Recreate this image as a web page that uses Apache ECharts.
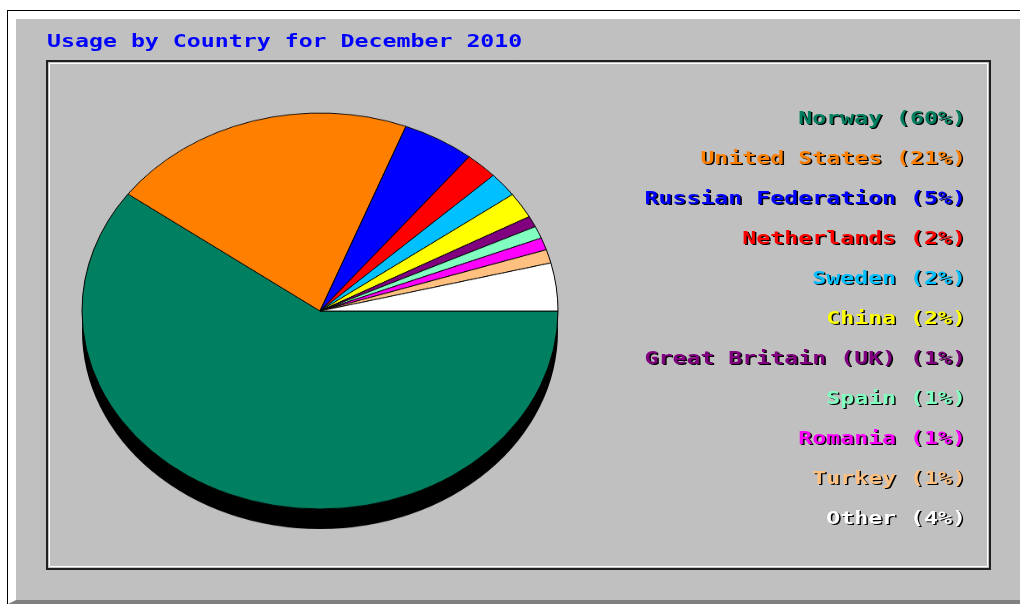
<!DOCTYPE html>
<html><head><meta charset="utf-8">
<script src="https://cdn.jsdelivr.net/npm/echarts@6/dist/echarts.min.js"></script>
<style>
html,body{margin:0;padding:0;background:#fff;}
#wrap{position:relative;width:1020px;height:604px;overflow:hidden;}
#main{position:absolute;left:0;top:0;width:1020px;height:604px;}
#pie{position:absolute;left:0;top:0;width:1020px;height:604px;transform:scaleY(0.832);transform-origin:0 311px;}
</style></head><body>
<div id="wrap"><div id="main"></div><div id="pie"></div></div>
<script>
const chartTitle = 'Usage by Country for December 2010';
const countries = ['Norway','United States','Russian Federation','Netherlands','Sweden','China','Great Britain (UK)','Spain','Romania','Turkey','Other'];
const shares = [60.0, 20.8, 4.9, 2.2, 2.0, 2.1, 0.9, 1.0, 1.0, 1.1, 3.9];
const colors = ['#008060','#FF8000','#0000FF','#FF0000','#00C0FF','#FFFF00','#800080','#80FFC0','#FF00FF','#FFC080','#FFFFFF'];

const total = shares.reduce((a,b)=>a+b,0);
const FONT = 'bold 18px "DejaVu Sans Mono", monospace';
const SX = 1.29;

const graphics = [
  {type:'rect', shape:{x:7,y:10,width:1013,height:594}, style:{fill:'#000'}, silent:true},
  {type:'rect', shape:{x:8,y:11,width:1012,height:593}, style:{fill:'#fff'}, silent:true},
  {type:'polygon', shape:{points:[[8,604],[16,600],[1020,600],[1020,604]]}, style:{fill:'#808080'}, silent:true},
  {type:'rect', shape:{x:16,y:19,width:1004,height:581}, style:{fill:'#C0C0C0'}, silent:true},
  {type:'rect', shape:{x:47,y:61,width:943,height:508}, style:{fill:'none',stroke:'#202020',lineWidth:2}, silent:true},
  {type:'rect', shape:{x:49.5,y:63.5,width:938,height:503}, style:{fill:'none',stroke:'#fff',lineWidth:1}, silent:true},
  {type:'text', x:47, y:42, scaleX:SX, silent:true,
   style:{x:0,y:0,text:chartTitle,font:FONT,fill:'#0000FF',align:'left',verticalAlign:'middle'}}
];
countries.forEach((n,i)=>{
  const pct = Math.round(shares[i]/total*100);
  graphics.push({type:'text', x:967.5, y:120.5+40*i, scaleX:SX, silent:true,
    style:{x:0,y:0,text:n+' ('+pct+'%)',font:FONT,fill:'#000',align:'right',verticalAlign:'middle'}});
  graphics.push({type:'text', x:966, y:119+40*i, scaleX:SX, silent:true,
    style:{x:0,y:0,text:n+' ('+pct+'%)',font:FONT,fill:colors[i],align:'right',verticalAlign:'middle'}});
});

const main = echarts.init(document.getElementById('main'));
main.setOption({animation:false, backgroundColor:'#fff', graphic:{elements:graphics}});

const pie = echarts.init(document.getElementById('pie'));
pie.setOption({
  animation:false,
  series:[
    { // 3D depth shadow under the pie
      type:'pie', center:[320,335], radius:238, silent:true, z:1,
      label:{show:false}, labelLine:{show:false},
      itemStyle:{color:'#000', borderWidth:0},
      data:[{name:'shadow', value:total}]
    },
    {
      type:'pie', center:[320,311], radius:238, startAngle:0, clockwise:true, silent:true, z:2,
      avoidLabelOverlap:false, label:{show:false}, labelLine:{show:false},
      itemStyle:{borderColor:'#000', borderWidth:1},
      data: countries.map((n,i)=>({name:n, value:shares[i], itemStyle:{color:colors[i]}}))
    }
  ]
});
</script>
</body></html>
